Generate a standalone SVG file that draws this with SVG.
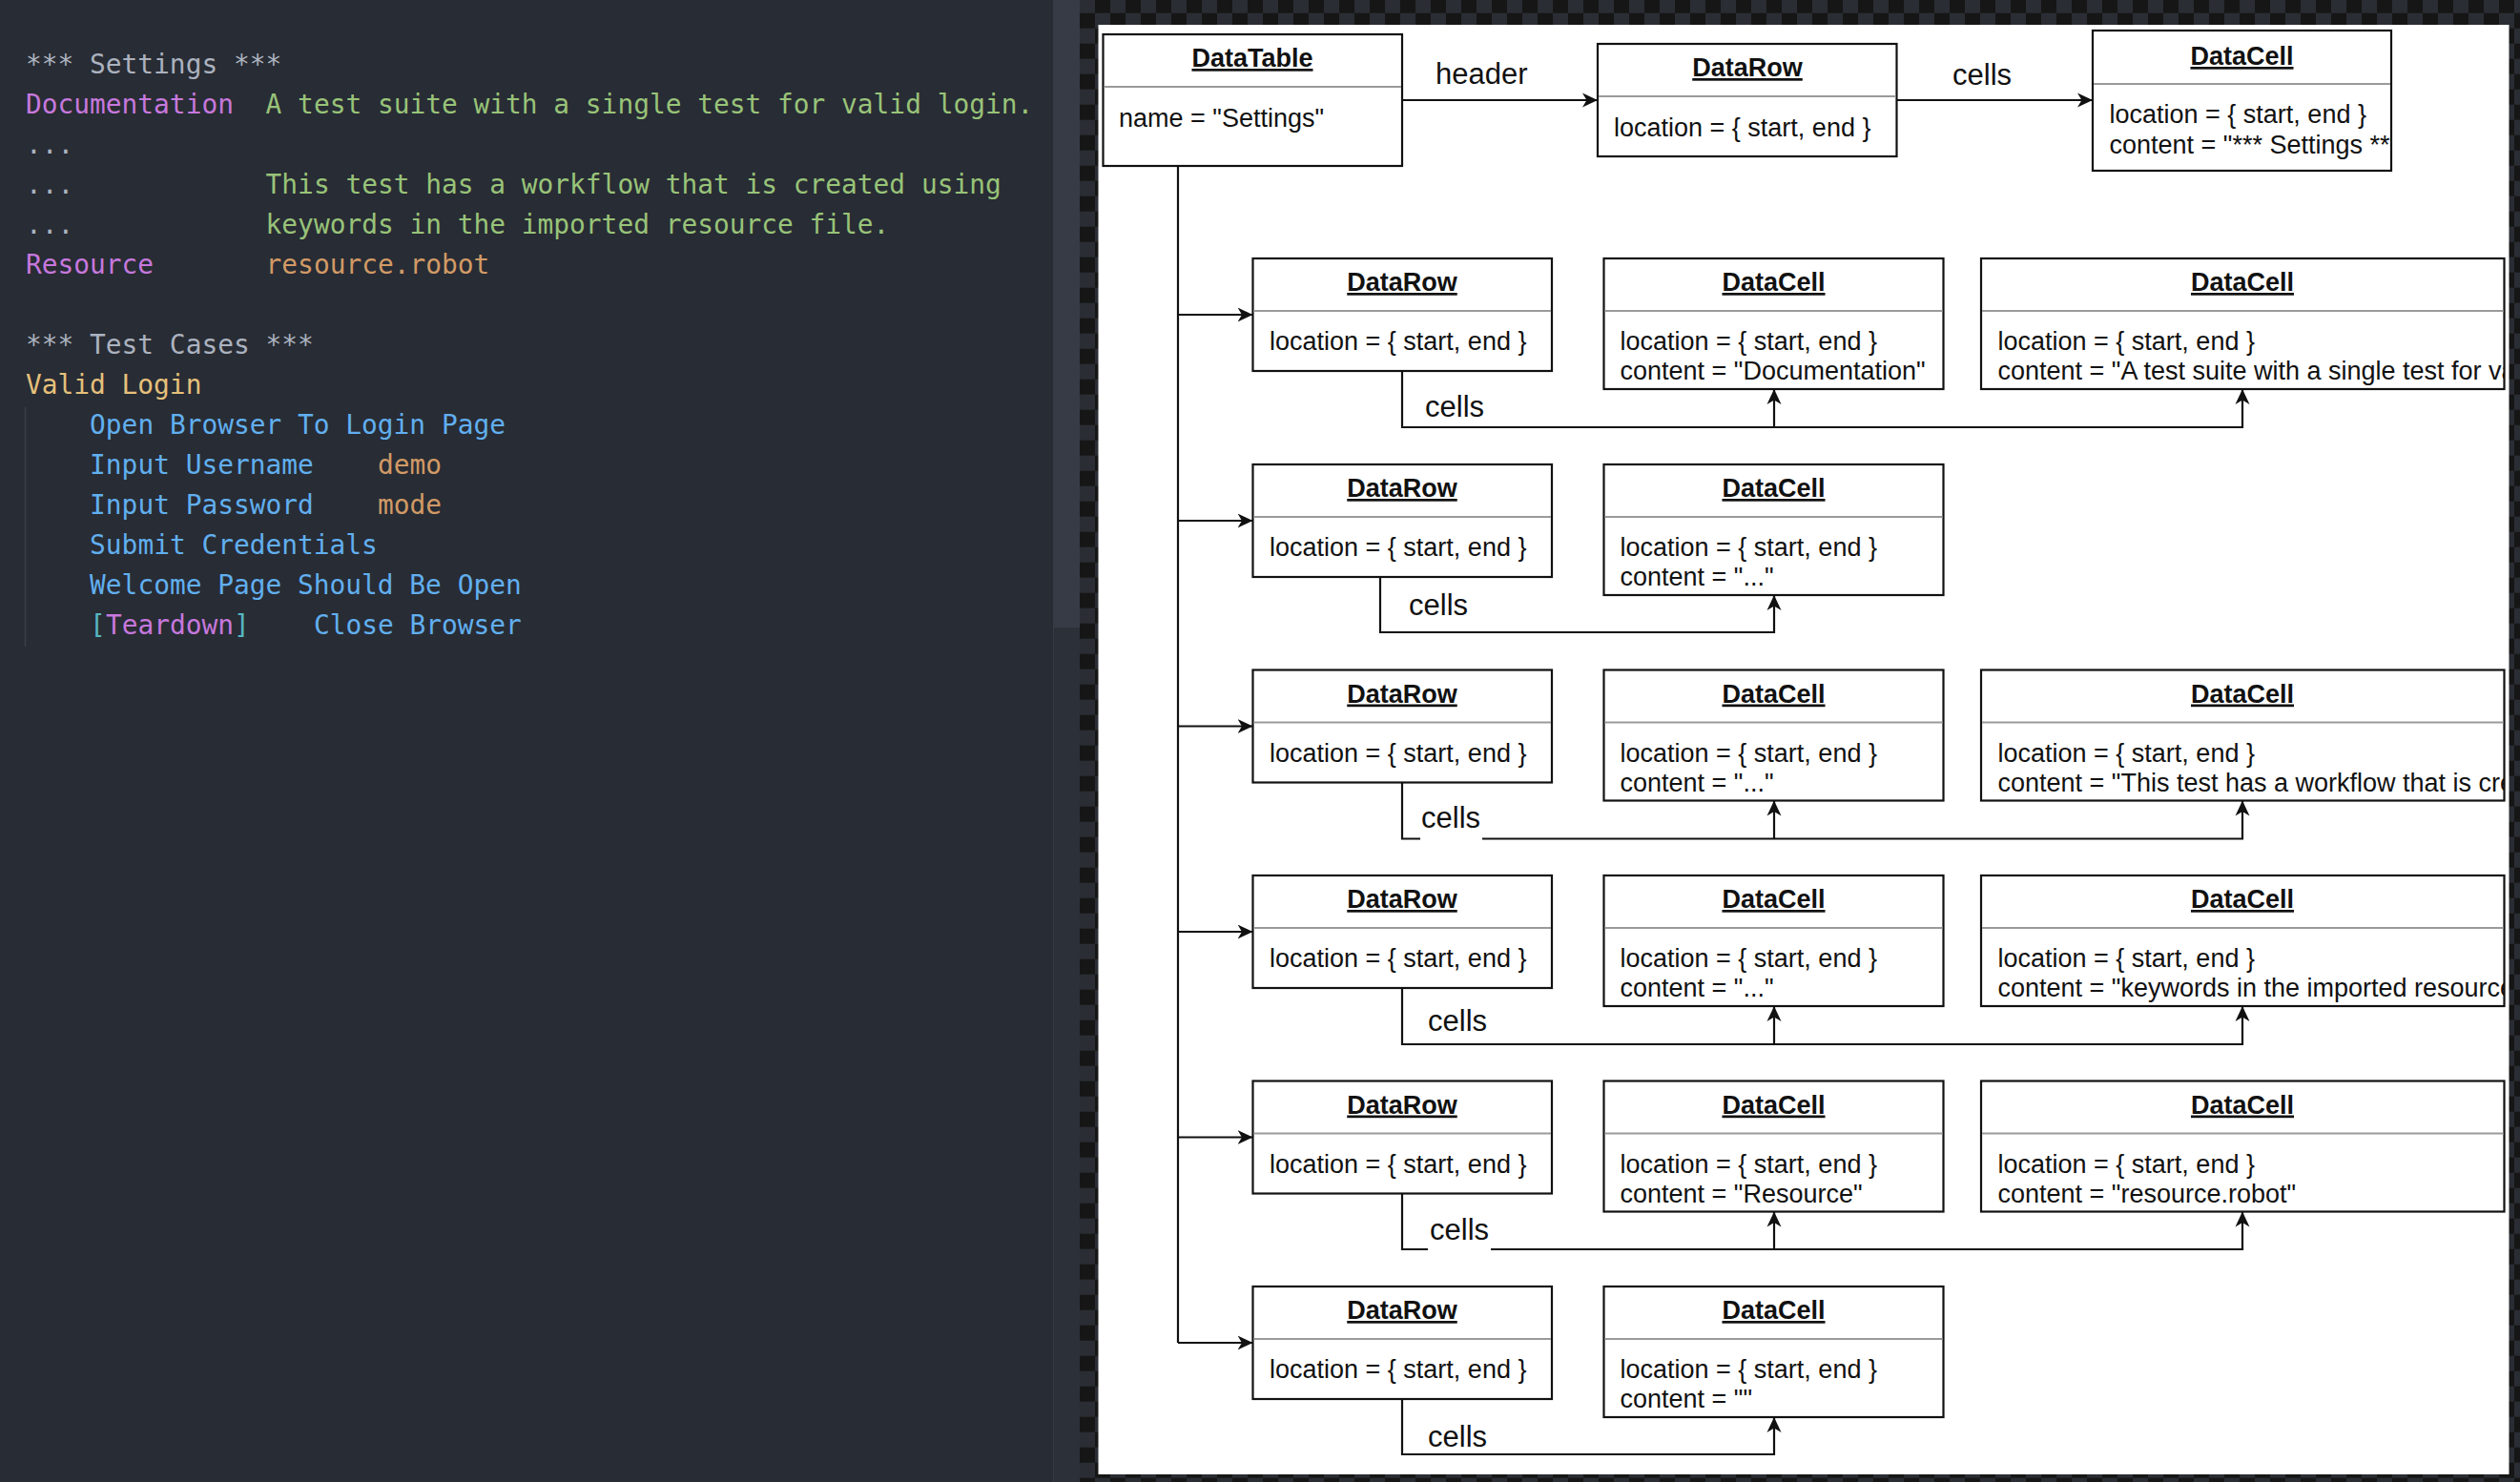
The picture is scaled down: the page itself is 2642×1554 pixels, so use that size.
<svg xmlns="http://www.w3.org/2000/svg" width="2642" height="1554" viewBox="0 0 2642 1554">
<style>
.code{font-family:"DejaVu Sans Mono","Liberation Mono",monospace;font-size:27.85px}
.gr{fill:#abb2bf}.pu{fill:#c678dd}.gn{fill:#98c379}.or{fill:#d19a66}.ye{fill:#e5c07b}.bl{fill:#61afef}.cy{fill:#56b6c2}
.box{fill:#fff;stroke:#111;stroke-width:2.2}
.dv{stroke:#9a9a9a;stroke-width:2}
.ttl{font-family:"Liberation Sans",Arial,sans-serif;font-size:27px;font-weight:bold;text-anchor:middle;text-decoration:underline;fill:#111}
.att{font-family:"Liberation Sans",Arial,sans-serif;font-size:27px;fill:#111}
.lbl{font-family:"Liberation Sans",Arial,sans-serif;font-size:31px;fill:#111}
.edge{fill:none;stroke:#111;stroke-width:2.2}
.arr{marker-end:url(#ah)}
</style>
<defs>
<pattern id="chk" x="12" y="13.7" width="32" height="32" patternUnits="userSpaceOnUse">
<rect width="32" height="32" fill="#2a2d33"/>
<rect width="16" height="16" fill="#161616"/>
<rect x="16" y="16" width="16" height="16" fill="#161616"/>
</pattern>
<marker id="ah" markerUnits="userSpaceOnUse" markerWidth="18" markerHeight="18" refX="16" refY="8" orient="auto">
<path d="M0,0.5 L16,8 L0,15.5 L4.5,8 Z" fill="#111"/>
</marker>
<clipPath id="cHC"><rect x="2194" y="32" width="313" height="147"/></clipPath>
<clipPath id="c1"><rect x="2077" y="271" width="548.5" height="137"/></clipPath>
<clipPath id="c3"><rect x="2077" y="702.5" width="548.5" height="137"/></clipPath>
<clipPath id="c4"><rect x="2077" y="918" width="548.5" height="137"/></clipPath>
<clipPath id="c5"><rect x="2077" y="1133.5" width="548.5" height="137"/></clipPath>
</defs>

<!-- editor panel -->
<g id="editor">
<rect x="0" y="0" width="1104" height="1554" fill="#282c34"/>
<rect x="1104" y="0" width="28" height="1554" fill="#2c3038"/>
<rect x="1104" y="0" width="28" height="658" fill="#363b45"/>
<line x1="1104.5" y1="0" x2="1104.5" y2="1554" stroke="#353a44" stroke-width="1"/>
<line x1="26.5" y1="427" x2="26.5" y2="678" stroke="#3b4048" stroke-width="1.5"/>
<g class="code">
<text x="27" y="77" class="gr">*** Settings ***</text>
<text x="27" y="119" class="pu">Documentation</text>
<text x="278.6" y="119" class="gn">A test suite with a single test for valid login.</text>
<text x="27" y="161" class="gr">...</text>
<text x="27" y="203" class="gr">...</text>
<text x="278.6" y="203" class="gn">This test has a workflow that is created using</text>
<text x="27" y="245" class="gr">...</text>
<text x="278.6" y="245" class="gn">keywords in the imported resource file.</text>
<text x="27" y="287" class="pu">Resource</text>
<text x="278.6" y="287" class="or">resource.robot</text>
<text x="27" y="371" class="gr">*** Test Cases ***</text>
<text x="27" y="413" class="ye">Valid Login</text>
<text x="94.1" y="455" class="bl">Open Browser To Login Page</text>
<text x="94.1" y="497" class="bl">Input Username</text>
<text x="396" y="497" class="or">demo</text>
<text x="94.1" y="539" class="bl">Input Password</text>
<text x="396" y="539" class="or">mode</text>
<text x="94.1" y="581" class="bl">Submit Credentials</text>
<text x="94.1" y="623" class="bl">Welcome Page Should Be Open</text>
<text x="94.1" y="665" class="cy">[</text>
<text x="110.9" y="665" class="pu">Teardown</text>
<text x="245" y="665" class="cy">]</text>
<text x="328.9" y="665" class="bl">Close Browser</text>
</g>
</g>

<!-- canvas -->
<rect x="1132" y="0" width="1510" height="1554" fill="url(#chk)"/>
<rect x="1151.5" y="26" width="1479" height="1520" fill="#fff"/>

<!-- connectors -->
<g id="connectors">
<path class="edge arr" d="M1470,105 H1675"/>
<path class="edge arr" d="M1988.5,105 H2194"/>
<path class="edge" d="M1235,174 V1408"/>
<path class="edge arr" d="M1235,330 H1313.5"/>
<path class="edge arr" d="M1235,546 H1313.5"/>
<path class="edge arr" d="M1235,761.5 H1313.5"/>
<path class="edge arr" d="M1235,977 H1313.5"/>
<path class="edge arr" d="M1235,1192.5 H1313.5"/>
<path class="edge arr" d="M1235,1408 H1313.5"/>
<path class="edge arr" d="M1470,389 V448 H2351 V408"/>
<path class="edge arr" d="M1860,448 V408"/>
<path class="edge arr" d="M1447,605 V663 H1860 V624"/>
<path class="edge arr" d="M1470,820.5 V879.5 H2351 V839.5"/>
<path class="edge arr" d="M1860,879.5 V839.5"/>
<path class="edge arr" d="M1470,1036 V1095 H2351 V1055"/>
<path class="edge arr" d="M1860,1095 V1055"/>
<path class="edge arr" d="M1470,1251.5 V1310 H2351 V1270.5"/>
<path class="edge arr" d="M1860,1310 V1270.5"/>
<path class="edge arr" d="M1470,1467 V1525 H1860 V1486"/>
<text class="lbl" x="1505" y="88">header</text>
<text class="lbl" x="2047" y="89">cells</text>
<text class="lbl" x="1494" y="437">cells</text>
<text class="lbl" x="1477" y="645">cells</text>
<rect x="1489" y="872" width="65" height="14" fill="#fff"/>
<text class="lbl" x="1490" y="868">cells</text>
<text class="lbl" x="1497" y="1081">cells</text>
<rect x="1497" y="1303" width="66" height="14" fill="#fff"/>
<text class="lbl" x="1499" y="1300">cells</text>
<text class="lbl" x="1497" y="1517">cells</text>
</g>

<!-- header nodes -->
<g id="datatable">
<rect class="box" x="1156.5" y="36" width="313.5" height="138"/>
<line class="dv" x1="1157.5" y1="91" x2="1469" y2="91"/>
<text class="ttl" x="1313" y="70">DataTable</text>
<text class="att" x="1173" y="133">name = "Settings"</text>
</g>
<g id="header-row">
<rect class="box" x="1675" y="46" width="313.5" height="118"/>
<line class="dv" x1="1676" y1="101" x2="1987.5" y2="101"/>
<text class="ttl" x="1832" y="80">DataRow</text>
<text class="att" x="1692" y="143">location = { start, end }</text>
</g>
<g id="header-cell">
<rect class="box" x="2194" y="32" width="313" height="147"/>
<line class="dv" x1="2195" y1="88" x2="2506" y2="88"/>
<text class="ttl" x="2350.5" y="68">DataCell</text>
<g clip-path="url(#cHC)">
<text class="att" x="2211.5" y="129">location = { start, end }</text>
<text class="att" x="2211.5" y="161">content = "*** Settings ***"</text>
</g>
</g>

<!-- row 1 -->
<g id="row1">
<rect class="box" x="1313.5" y="271" width="313.5" height="118"/>
<line class="dv" x1="1314.5" y1="326" x2="1626" y2="326"/>
<text class="ttl" x="1470" y="305">DataRow</text>
<text class="att" x="1331" y="367">location = { start, end }</text>
</g>
<g id="row1-cell1">
<rect class="box" x="1681.5" y="271" width="356" height="137"/>
<line class="dv" x1="1682.5" y1="326" x2="2036.5" y2="326"/>
<text class="ttl" x="1859.5" y="305">DataCell</text>
<text class="att" x="1698.5" y="367">location = { start, end }</text>
<text class="att" x="1698.5" y="398">content = "Documentation"</text>
</g>
<g id="row1-cell2">
<rect class="box" x="2077" y="271" width="548.5" height="137"/>
<line class="dv" x1="2078" y1="326" x2="2624.5" y2="326"/>
<text class="ttl" x="2351" y="305">DataCell</text>
<g clip-path="url(#c1)">
<text class="att" x="2094.5" y="367">location = { start, end }</text>
<text class="att" x="2094.5" y="398">content = "A test suite with a single test for valid login."</text>
</g>
</g>

<!-- row 2 -->
<g id="row2">
<rect class="box" x="1313.5" y="487" width="313.5" height="118"/>
<line class="dv" x1="1314.5" y1="542" x2="1626" y2="542"/>
<text class="ttl" x="1470" y="521">DataRow</text>
<text class="att" x="1331" y="583">location = { start, end }</text>
</g>
<g id="row2-cell1">
<rect class="box" x="1681.5" y="487" width="356" height="137"/>
<line class="dv" x1="1682.5" y1="542" x2="2036.5" y2="542"/>
<text class="ttl" x="1859.5" y="521">DataCell</text>
<text class="att" x="1698.5" y="583">location = { start, end }</text>
<text class="att" x="1698.5" y="614">content = "..."</text>
</g>

<!-- row 3 -->
<g id="row3">
<rect class="box" x="1313.5" y="702.5" width="313.5" height="118"/>
<line class="dv" x1="1314.5" y1="757.5" x2="1626" y2="757.5"/>
<text class="ttl" x="1470" y="736.5">DataRow</text>
<text class="att" x="1331" y="798.5">location = { start, end }</text>
</g>
<g id="row3-cell1">
<rect class="box" x="1681.5" y="702.5" width="356" height="137"/>
<line class="dv" x1="1682.5" y1="757.5" x2="2036.5" y2="757.5"/>
<text class="ttl" x="1859.5" y="736.5">DataCell</text>
<text class="att" x="1698.5" y="798.5">location = { start, end }</text>
<text class="att" x="1698.5" y="829.5">content = "..."</text>
</g>
<g id="row3-cell2">
<rect class="box" x="2077" y="702.5" width="548.5" height="137"/>
<line class="dv" x1="2078" y1="757.5" x2="2624.5" y2="757.5"/>
<text class="ttl" x="2351" y="736.5">DataCell</text>
<g clip-path="url(#c3)">
<text class="att" x="2094.5" y="798.5">location = { start, end }</text>
<text class="att" x="2094.5" y="829.5">content = "This test has a workflow that is created using"</text>
</g>
</g>

<!-- row 4 -->
<g id="row4">
<rect class="box" x="1313.5" y="918" width="313.5" height="118"/>
<line class="dv" x1="1314.5" y1="973" x2="1626" y2="973"/>
<text class="ttl" x="1470" y="952">DataRow</text>
<text class="att" x="1331" y="1014">location = { start, end }</text>
</g>
<g id="row4-cell1">
<rect class="box" x="1681.5" y="918" width="356" height="137"/>
<line class="dv" x1="1682.5" y1="973" x2="2036.5" y2="973"/>
<text class="ttl" x="1859.5" y="952">DataCell</text>
<text class="att" x="1698.5" y="1014">location = { start, end }</text>
<text class="att" x="1698.5" y="1045">content = "..."</text>
</g>
<g id="row4-cell2">
<rect class="box" x="2077" y="918" width="548.5" height="137"/>
<line class="dv" x1="2078" y1="973" x2="2624.5" y2="973"/>
<text class="ttl" x="2351" y="952">DataCell</text>
<g clip-path="url(#c4)">
<text class="att" x="2094.5" y="1014">location = { start, end }</text>
<text class="att" x="2094.5" y="1045">content = "keywords in the imported resource file."</text>
</g>
</g>

<!-- row 5 -->
<g id="row5">
<rect class="box" x="1313.5" y="1133.5" width="313.5" height="118"/>
<line class="dv" x1="1314.5" y1="1188.5" x2="1626" y2="1188.5"/>
<text class="ttl" x="1470" y="1167.5">DataRow</text>
<text class="att" x="1331" y="1229.5">location = { start, end }</text>
</g>
<g id="row5-cell1">
<rect class="box" x="1681.5" y="1133.5" width="356" height="137"/>
<line class="dv" x1="1682.5" y1="1188.5" x2="2036.5" y2="1188.5"/>
<text class="ttl" x="1859.5" y="1167.5">DataCell</text>
<text class="att" x="1698.5" y="1229.5">location = { start, end }</text>
<text class="att" x="1698.5" y="1260.5">content = "Resource"</text>
</g>
<g id="row5-cell2">
<rect class="box" x="2077" y="1133.5" width="548.5" height="137"/>
<line class="dv" x1="2078" y1="1188.5" x2="2624.5" y2="1188.5"/>
<text class="ttl" x="2351" y="1167.5">DataCell</text>
<g clip-path="url(#c5)">
<text class="att" x="2094.5" y="1229.5">location = { start, end }</text>
<text class="att" x="2094.5" y="1260.5">content = "resource.robot"</text>
</g>
</g>

<!-- row 6 -->
<g id="row6">
<rect class="box" x="1313.5" y="1349" width="313.5" height="118"/>
<line class="dv" x1="1314.5" y1="1404" x2="1626" y2="1404"/>
<text class="ttl" x="1470" y="1383">DataRow</text>
<text class="att" x="1331" y="1445">location = { start, end }</text>
</g>
<g id="row6-cell1">
<rect class="box" x="1681.5" y="1349" width="356" height="137"/>
<line class="dv" x1="1682.5" y1="1404" x2="2036.5" y2="1404"/>
<text class="ttl" x="1859.5" y="1383">DataCell</text>
<text class="att" x="1698.5" y="1445">location = { start, end }</text>
<text class="att" x="1698.5" y="1476">content = ""</text>
</g>
</svg>
